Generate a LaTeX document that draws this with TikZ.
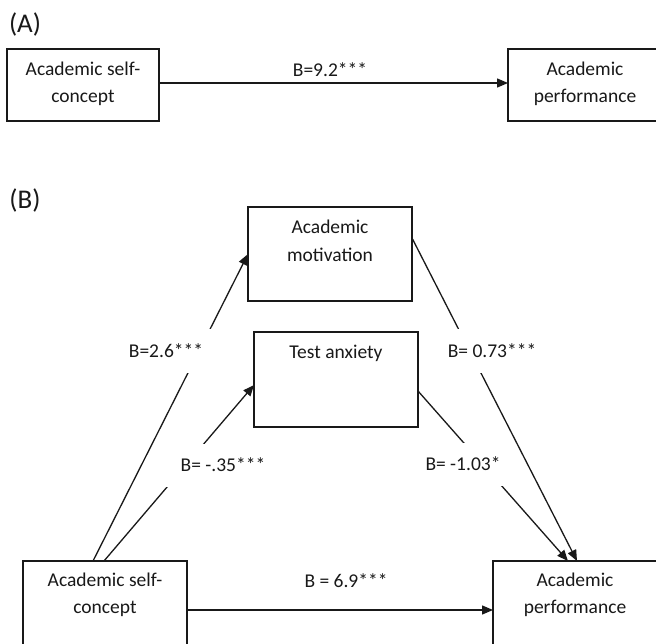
\documentclass[tikz,border=0pt]{standalone}
\usepackage{fontspec}
\setmainfont{Carlito}
\usetikzlibrary{arrows.meta}
\definecolor{ink}{RGB}{25,25,25}
\begin{document}
\begin{tikzpicture}[x=1pt,y=-1pt,
  box/.style={draw=ink,line width=1.2pt,inner sep=0pt,outer sep=0pt},
  txt/.style={text=ink,align=center,font=\fontsize{19.5}{27.5}\selectfont,inner sep=0pt},
  conn/.style={draw=ink,line width=1.3pt,-{Triangle[length=11pt,width=9pt]}},
  lab/.style={text=ink,font=\fontsize{19.5}{23}\selectfont,inner sep=0pt},
  gaplab/.style={lab,fill=white},
  panel/.style={text=ink,font=\fontsize{27}{30}\selectfont,inner sep=0pt}]
\path[use as bounding box,clip] (0,0) rectangle (656,644);
\fill[white] (0,0) rectangle (656,644);
% boxes
\node[box,minimum width=152,minimum height=72] (a1) at (83,85) {};
\node[box,minimum width=154,minimum height=72] (a2) at (585,85) {};
\node[box,minimum width=164,minimum height=94] (mot) at (330,254) {};
\node[box,minimum width=164,minimum height=95] (anx) at (336,379.5) {};
\node[box,minimum width=164,minimum height=94] (sc) at (105,608) {};
\node[box,minimum width=164,minimum height=94] (perf) at (575,608) {};
% texts
\node[txt] (a1t) at (83,84) {Academic self-\\concept};
\node[txt] (a2t) at (585,84) {Academic\\performance};
\node[txt] (mott) at (330,241) {Academic\\motivation};
\node[txt] (anxt) at (336,353) {Test anxiety};
\node[txt] (sct) at (105,595) {Academic self-\\concept};
\node[txt] (perft) at (575,595) {Academic\\performance};
% panel labels
\node[panel] (pa) at (25,25) {(A)};
\node[panel] (pb) at (25,200) {(B)};
% connectors
\draw[conn] ([yshift=2pt]a1.east) -- ([yshift=2pt]a2.west);
\draw[conn] ([yshift=-2pt]sc.east) -- ([yshift=-2pt]perf.west);
\draw[conn] ([xshift=-12pt]sc.north) -- (mot.west);
\draw[conn] ([xshift=-1pt]sc.north) -- ([yshift=-5.5pt]anx.west);
\draw[conn] ([yshift=16pt]mot.east) -- ([xshift=2pt]perf.north);
\draw[conn] ([yshift=-11.5pt]anx.east) -- ([xshift=-7pt]perf.north);
% labels
\node[lab] (la) at (330,70) {B=9.2***};
\node[lab] (lb) at (346,581) {B = 6.9***};
\node[gaplab,minimum width=90,minimum height=44] (l1) at (166,351) {B=2.6***};
\node[gaplab,minimum width=116,minimum height=43] (l2) at (223,465) {B= -.35***};
\node[gaplab,minimum width=92,minimum height=43] (l3) at (492,351) {B= 0.73***};
\node[gaplab,minimum width=84,minimum height=43] (l4) at (463,464) {B= -1.03*};
\end{tikzpicture}
\end{document}
